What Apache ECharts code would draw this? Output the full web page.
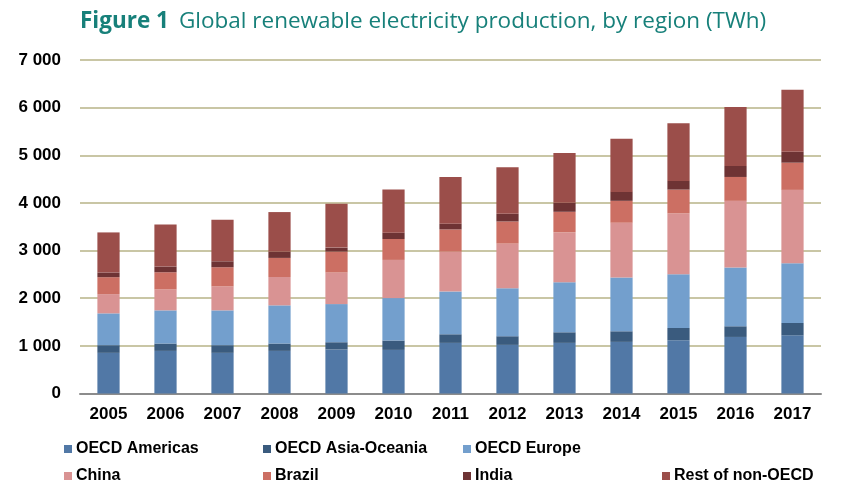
<!DOCTYPE html>
<html><head><meta charset="utf-8">
<script src="https://cdn.jsdelivr.net/npm/echarts@6/dist/echarts.min.js"></script>
<style>html,body{margin:0;padding:0;background:#fff}#c{width:841px;height:492px}</style>
</head><body><div id="c"></div>
<script>
const years = ['2005','2006','2007','2008','2009','2010','2011','2012','2013','2014','2015','2016','2017'];
const oecdAmericas   = [853, 894, 853, 894, 924, 915, 1062, 1020, 1062, 1083, 1118, 1187, 1222];
const oecdAsiaOceania= [161, 155, 161, 155, 152, 197, 181, 182, 223, 223, 257, 224, 258];
const oecdEurope     = [668, 696, 731, 801, 801, 890, 899, 1009, 1052, 1129, 1129, 1233, 1254];
const china          = [404, 439, 502, 595, 662, 802, 836, 934, 1044, 1149, 1275, 1400, 1540];
const brazil         = [355, 361, 403, 401, 439, 439, 466, 466, 433, 460, 501, 501, 571];
const india          = [98, 120, 125, 132, 84, 132, 119, 161, 188, 188, 182, 230, 229];
const restNonOECD    = [842, 884, 872, 830, 919, 905, 982, 976, 1045, 1114, 1212, 1240, 1304];
const yTicks = [0, 1000, 2000, 3000, 4000, 5000, 6000, 7000];

const names = ['OECD Americas','OECD Asia-Oceania','OECD Europe','China','Brazil','India','Rest of non-OECD'];
const data = [oecdAmericas, oecdAsiaOceania, oecdEurope, china, brazil, india, restNonOECD];
const colors = ['#5178a6','#3a5b7e','#739fcd','#d99393','#cc6f63','#6e3334','#9b4e4a'];
const legendPos = [[64,441],[263,441],[463,441],[64,468],[263,468],[463,468],[662,468]];

const chart = echarts.init(document.getElementById('c'), null, {renderer:'canvas'});
const fmt = v => { const s = String(v); return s.length > 3 ? s.slice(0, s.length-3) + ' ' + s.slice(-3) : s; };
chart.setOption({
  animation: false,
  color: colors,
  title: {
    text: '{b|Figure 1}  {r|Global renewable electricity production, by region (TWh)}',
    left: 75, top: 5,
    textStyle: { rich: {
      b: { fontFamily: 'Open Sans', fontWeight: 'bold', fontSize: 22.5, color: '#17807a' },
      r: { fontFamily: 'Open Sans', fontWeight: 'normal', fontSize: 22.5, color: '#17807a' }
    }}
  },
  legend: names.map((n, i) => ({
    data: [n], left: legendPos[i][0], top: legendPos[i][1],
    itemWidth: 8, itemHeight: 8, itemGap: 0, icon: 'rect', padding: 0,
    textStyle: { fontFamily: 'Liberation Sans', fontWeight: 'bold', fontSize: 16, color: '#000', padding: [0,0,0,-1] },
    selectedMode: false
  })),
  grid: { left: 80, right: 20, top: 60, bottom: 98.5 },
  xAxis: {
    type: 'category', data: years,
    axisLine: { lineStyle: { color: '#8c8c8c', width: 2 } },
    axisTick: { length: 6, lineStyle: { color: '#8c8c8c', width: 2 } },
    axisLabel: { fontFamily: 'Liberation Sans', fontWeight: 'bold', fontSize: 17, color: '#000', margin: 12 }
  },
  yAxis: {
    type: 'value', min: yTicks[0], max: yTicks[yTicks.length-1], interval: 1000,
    axisLine: { show: false }, axisTick: { show: false },
    splitLine: { lineStyle: { color: '#c9c6a5', width: 2 } },
    axisLabel: { fontFamily: 'Liberation Sans', fontWeight: 'bold', fontSize: 17, color: '#000', margin: 19, formatter: fmt }
  },
  series: names.map((n, i) => ({
    name: n, type: 'bar', stack: 'total', data: data[i], barWidth: '39%',
    itemStyle: { color: colors[i] }
  }))
});
</script></body></html>
